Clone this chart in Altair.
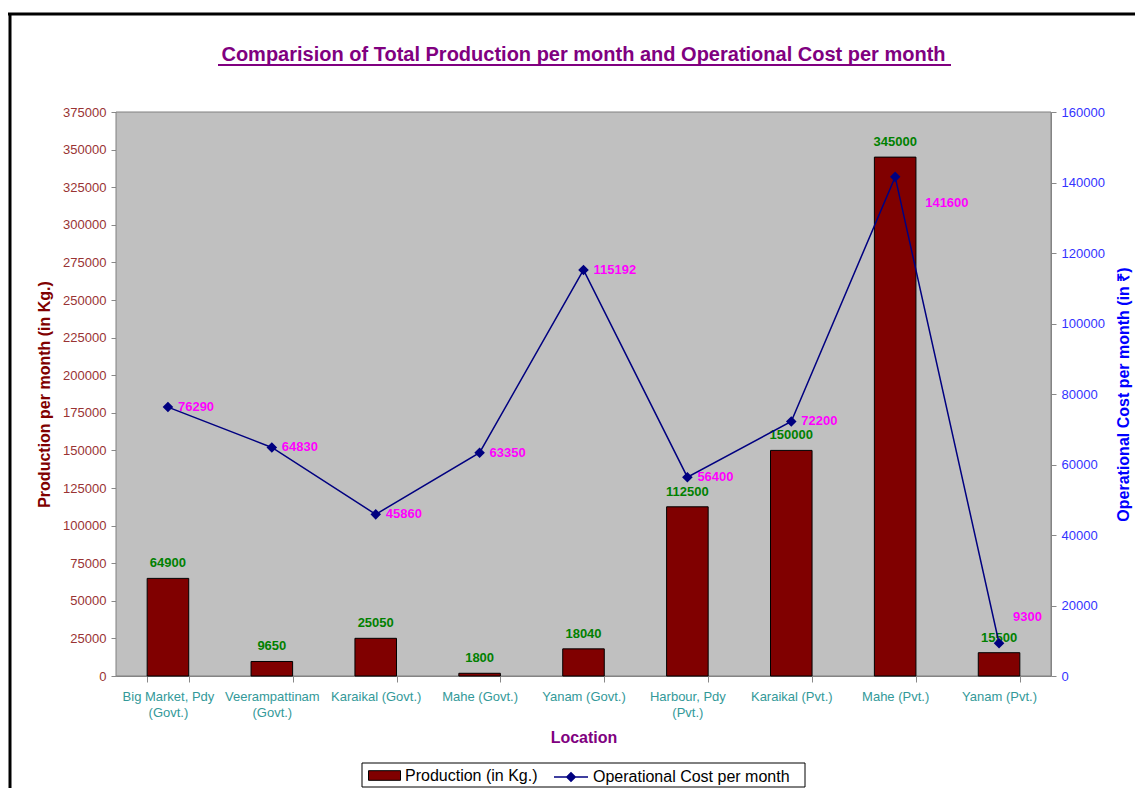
import altair as alt
import pandas as pd

locations = [
    "Big Market, Pdy|(Govt.)",
    "Veerampattinam|(Govt.)",
    "Karaikal (Govt.)",
    "Mahe (Govt.)",
    "Yanam (Govt.)",
    "Harbour, Pdy|(Pvt.)",
    "Karaikal (Pvt.)",
    "Mahe (Pvt.)",
    "Yanam (Pvt.)",
]
production = [64900, 9650, 25050, 1800, 18040, 112500, 150000, 345000, 15500]
op_cost = [76290, 64830, 45860, 63350, 115192, 56400, 72200, 141600, 9300]
left_ticks = [0, 25000, 50000, 75000, 100000, 125000, 150000, 175000, 200000,
              225000, 250000, 275000, 300000, 325000, 350000, 375000]
right_ticks = [0, 20000, 40000, 60000, 80000, 100000, 120000, 140000, 160000]
chart_title = "Comparision of Total Production per month and Operational Cost per month"

df = pd.DataFrame({"Location": locations, "Production": production, "Cost": op_cost})

FONT = "Liberation Sans"
W, H = 935, 564

x_enc = alt.X(
    "Location:N",
    sort=locations,
    scale=alt.Scale(paddingInner=0.6, paddingOuter=0.3),
    axis=alt.Axis(
        labelExpr="split(datum.label, '|')",
        labelAngle=0,
        labelColor="#339999",
        labelFontSize=13,
        labelLineHeight=16,
        labelPadding=8,
        labelOverlap=False,
        tickBand="extent",
        tickSize=6,
        grid=False,
        title="Location",
        titleColor="#800080",
        titleFontSize=16,
        titleFontWeight="bold",
        titlePadding=10,
    ),
)

left_scale = alt.Scale(domain=[0, 375000], nice=False, zero=True)
right_scale = alt.Scale(domain=[0, 160000], nice=False, zero=True)

y_left = alt.Y(
    "Production:Q",
    scale=left_scale,
    axis=alt.Axis(
        values=left_ticks,
        format="d",
        grid=False,
        labelOverlap=False,
        labelColor="#993333",
        labelFontSize=13,
        labelPadding=5,
        tickSize=5,
        title="Production per month (in Kg.)",
        titleColor="#800000",
        titleFontSize=16,
        titleFontWeight="bold",
        titlePadding=10,
    ),
)

y_right = alt.Y(
    "Cost:Q",
    scale=right_scale,
    axis=alt.Axis(
        orient="right",
        values=right_ticks,
        format="d",
        grid=False,
        labelOverlap=False,
        labelColor="#3333FF",
        labelFontSize=13,
        labelPadding=5,
        tickSize=5,
        title="Operational Cost per month (in ₹)",
        titleColor="#0000FF",
        titleFontSize=16,
        titleFontWeight="bold",
        titleAngle=270,
        titlePadding=27,
    ),
)

base = alt.Chart(df).encode(x=x_enc)

bars = base.mark_bar(stroke="black", strokeWidth=1).encode(
    y=y_left,
    fill=alt.Fill(
        "bar_series:N",
        scale=alt.Scale(range=["#800000"]),
        legend=alt.Legend(
            orient="none", legendX=252, legendY=647, title=None, padding=0,
            symbolType="M-1,-0.3H1V0.3H-1Z", symbolSize=1024,
            symbolStrokeColor="black", symbolStrokeWidth=1,
            labelFont=FONT, labelFontSize=16, labelColor="black", labelLimit=400,
        ),
    ),
).transform_calculate(bar_series="'Production (in Kg.)'")

bar_labels = base.mark_text(
    color="#008000", fontWeight="bold", fontSize=13, font=FONT,
    baseline="bottom", dy=-8,
).encode(y=y_left, text=alt.Text("Production:Q", format="d"))

left = alt.layer(bars, bar_labels)

line = base.mark_line(
    strokeWidth=1.5,
    point=alt.OverlayMarkDef(shape="diamond", size=60, filled=True, color="#000080"),
).encode(
    y=y_right,
    stroke=alt.Stroke(
        "line_series:N",
        scale=alt.Scale(range=["#000080"]),
        legend=alt.Legend(
            orient="none", legendX=437, legendY=647, title=None, padding=0,
            symbolType="M-1,0H1M-0.25,0L0,-0.25L0.25,0L0,0.25Z", symbolSize=1156,
            symbolStrokeColor="#000080", symbolFillColor="#000080",
            symbolStrokeWidth=1.5,
            labelFont=FONT, labelFontSize=16, labelColor="black", labelLimit=400,
        ),
    ),
).transform_calculate(line_series="'Operational Cost per month'")

lab_kw = dict(color="#FF00FF", fontWeight="bold", fontSize=13, font=FONT,
              align="left", baseline="middle")
cost_t = alt.Text("Cost:Q", format="d")
line_labels = base.mark_text(dx=10, **lab_kw).encode(y=y_right, text=cost_t).transform_filter(
    "datum.Location != 'Mahe (Pvt.)' && datum.Location != 'Yanam (Pvt.)'"
)
label_low = base.mark_text(dx=30, dy=26, **lab_kw).encode(y=y_right, text=cost_t).transform_filter(
    "datum.Location == 'Mahe (Pvt.)'"
)
label_high = base.mark_text(dx=14, dy=-26, **lab_kw).encode(y=y_right, text=cost_t).transform_filter(
    "datum.Location == 'Yanam (Pvt.)'"
)

right = alt.layer(line, line_labels, label_low, label_high)

one = alt.Data(values=[{"t": chart_title}])
plot_bg = alt.Chart(one).mark_rect(fill="#C0C0C0", stroke="#808080", strokeWidth=1).encode(
    x=alt.value(0), x2=alt.value(W), y=alt.value(0), y2=alt.value(H)
)
title_text = alt.Chart(one).mark_text(
    font=FONT, fontSize=20, fontWeight="bold", color="#800080",
    align="center", baseline="alphabetic",
).encode(x=alt.value(W / 2), y=alt.value(-51), text="t:N")
legend_box = alt.Chart(one).mark_rect(fill="white", stroke="black", strokeWidth=1).encode(
    x=alt.value(246), x2=alt.value(689), y=alt.value(651), y2=alt.value(675)
)
underline = alt.Chart(one).mark_rule(color="#800080", strokeWidth=2).encode(
    x=alt.value(102), x2=alt.value(835), y=alt.value(-47)
)
frame_top = alt.Chart(one).mark_rule(color="black", strokeWidth=3).encode(
    x=alt.value(-108), x2=alt.value(1030), y=alt.value(-98)
)
frame_left = alt.Chart(one).mark_rule(color="black", strokeWidth=3).encode(
    x=alt.value(-106), y=alt.value(-99), y2=alt.value(700)
)

chart = alt.layer(
    plot_bg, legend_box, left, right, title_text, underline, frame_top, frame_left
).resolve_scale(
    y="independent", fill="independent", stroke="independent"
).properties(
    width=W,
    height=H,
    autosize=alt.AutoSizeParams(type="none"),
    padding={"left": 108, "top": 104, "right": 84, "bottom": 112},
).configure_view(
    fill="#C0C0C0", stroke="#808080", strokeWidth=1
).configure_axis(
    grid=False, domainColor="black", tickColor="black",
    labelFont=FONT, titleFont=FONT,
).configure(background="white")

chart.save("out.html", embed_options={"renderer": "svg", "actions": False})
